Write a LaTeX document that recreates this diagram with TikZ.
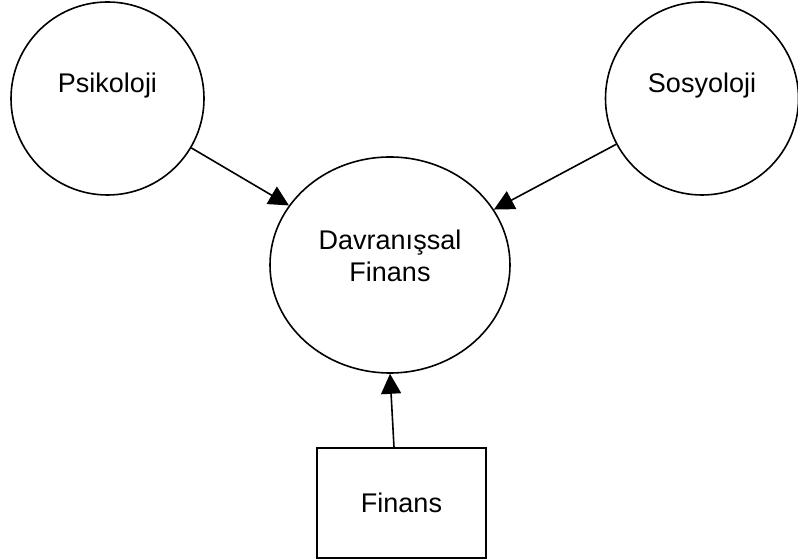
\documentclass[tikz,border=0pt]{standalone}
\usepackage{fontspec}
\setmainfont{Liberation Sans}
\usetikzlibrary{shapes.geometric,arrows.meta}
\begin{document}
\begin{tikzpicture}
        [%%%%%%%%%%%%%%%%%%%%%%%%%%%%%%
        x=0.5pt, y=-0.5pt,
        every node/.style={font=\fontsize{13.5}{16}\selectfont},
        field/.style={circle,draw=black,thick,inner sep=0pt,minimum size=96.5pt,text height=9.5pt,text depth=15pt},
        core/.style={ellipse,draw=black,thick,inner sep=0pt,minimum width=120pt,minimum height=108pt,align=center,text height=19.5pt,text depth=2.5pt},
        box/.style={rectangle,draw=black,thick,minimum width=84.5pt,minimum height=55pt},
        arr/.style={-{Triangle[length=10pt,width=10pt]},thick},
        ]%%%%%%%%%%%%%%%%%%%%%%%%%%%%%%
        
        \useasboundingbox (0,0) rectangle (798,560);
        
        \node[field] (psi) at (107.5,98.5) {Psikoloji};
        \node[field] (sos) at (702,98.5) {Sosyoloji};
        \node[core] (df) at (390,265) {Davranışsal\\Finans};
        \node[box] (fin) at (401.5,503) {Finans};
        
        \draw[arr] (psi) -- (df);
        \draw[arr] (sos) -- (df);
        \draw[arr] ([xshift=-3.75pt]fin.north) -- (df.south);
        
      \end{tikzpicture}
\end{document}
